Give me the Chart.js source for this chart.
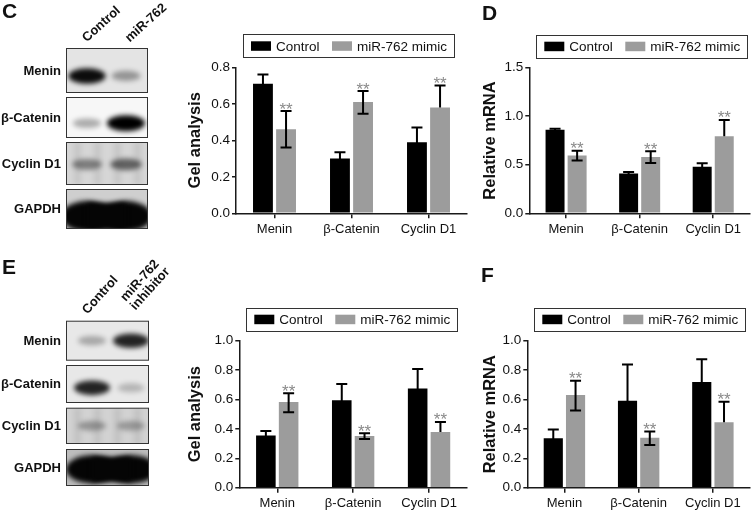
<!DOCTYPE html>
<html>
<head>
<meta charset="utf-8">
<script src="https://cdn.jsdelivr.net/npm/chart.js@4.4.1/dist/chart.umd.min.js"></script>
<style>
  body { margin: 0; background: #fff; }
  #page { position: relative; width: 752px; height: 511px; overflow: hidden; font-family: 'Liberation Sans', Arial, sans-serif; color: #111; }
  canvas { position: absolute; }
  .lbl { position: absolute; font-weight: bold; font-size: 13px; white-space: nowrap; }
  .rowlbl { left: 0; width: 61px; text-align: right; line-height: 14px; }
  .hdr { transform-origin: 0 100%; line-height: 13px; }
  .panel { font-size: 21px; line-height: 21px; }
</style>
</head>
<body>
<div id="page">
  <canvas id="blots" width="752" height="511" style="left:0;top:0"></canvas>
</div>
<script>
const FONT = "'Liberation Sans', Arial, sans-serif";
const BLACK = '#000000';
const GRAY = '#9c9c9c';
const AX = '#1a1a1a';

// datos comunes
const CATS = ['Menin', 'β-Catenin', 'Cyclin D1'];
const SERIES = ['Control', 'miR-762 mimic'];

// C: gel analysis (mimic)
const gelC_ctrl = [0.71, 0.30, 0.39];
const gelC_ctrlErr = [0.05, 0.035, 0.08];
const gelC_mimic = [0.46, 0.61, 0.58];
const gelC_mimicUp = [0.10, 0.06, 0.12];
const gelC_mimicDn = [0.10, 0.065, 0];

// D: relative mRNA (mimic)
const mrnaD_ctrl = [0.86, 0.41, 0.48];
const mrnaD_ctrlErr = [0.012, 0.015, 0.035];
const mrnaD_mimic = [0.595, 0.58, 0.795];
const mrnaD_mimicUp = [0.05, 0.058, 0.167];
const mrnaD_mimicDn = [0.05, 0.062, 0];

// E: gel analysis (inhibitor)
const gelE_ctrl = [0.355, 0.595, 0.675];
const gelE_ctrlErr = [0.03, 0.11, 0.132];
const gelE_mimic = [0.583, 0.351, 0.379];
const gelE_mimicUp = [0.06, 0.02, 0.068];
const gelE_mimicDn = [0.07, 0.02, 0];

// F: relative mRNA (inhibitor)
const mrnaF_ctrl = [0.336, 0.592, 0.719];
const mrnaF_ctrlErr = [0.06, 0.246, 0.155];
const mrnaF_mimic = [0.63, 0.34, 0.445];
const mrnaF_mimicUp = [0.098, 0.042, 0.14];
const mrnaF_mimicDn = [0.105, 0.05, 0];

// Western blots
const BLOT_ROWS = ['Menin', 'β-Catenin', 'Cyclin D1', 'GAPDH'];
const bandsC = [[0.95, 0.35], [0.3, 1.0], [0.42, 0.55], [1, 1]];
const bandsE = [[0.28, 0.85], [0.85, 0.22], [0.3, 0.28], [1, 1]];

const page = document.getElementById('page');

// Barras de error + asteriscos
Chart.register({
  id: 'errorBars',
  afterDatasetsDraw(chart) {
    const { ctx } = chart;
    const y = chart.scales.y;
    chart.data.datasets.forEach((ds, di) => {
      const meta = chart.getDatasetMeta(di);
      meta.data.forEach((bar, i) => {
        const v = ds.data[i];
        const top = y.getPixelForValue(v + ds._errUp[i]);
        const bot = y.getPixelForValue(v - ds._errDn[i]);
        ctx.save();
        ctx.strokeStyle = '#000';
        ctx.lineWidth = 2;
        ctx.beginPath();
        ctx.moveTo(bar.x, top); ctx.lineTo(bar.x, bot);
        ctx.moveTo(bar.x - 5.5, top); ctx.lineTo(bar.x + 5.5, top);
        if (ds._errDn[i] > 0) { ctx.moveTo(bar.x - 5.5, bot); ctx.lineTo(bar.x + 5.5, bot); }
        ctx.stroke();
        if (ds._stars) {
          ctx.fillStyle = '#8a8a8a';
          ctx.font = `17px ${FONT}`;
          ctx.textAlign = 'center';
          ctx.textBaseline = 'alphabetic';
          ctx.fillText('**', bar.x, top + 3.5);
        }
        ctx.restore();
      });
    });
  }
});

// Leyenda con recuadro
Chart.register({
  id: 'boxLegend',
  afterDraw(chart) {
    const { ctx, chartArea } = chart;
    const x = chartArea.left + 7, w = 211, h = 23;
    const yt = chartArea.top - 10 - h;
    const offs = [[8, 33], [89, 114]];
    ctx.save();
    ctx.strokeStyle = '#333';
    ctx.lineWidth = 1;
    ctx.strokeRect(Math.round(x) + 0.5, Math.round(yt) + 0.5, w, h);
    chart.data.datasets.forEach((ds, i) => {
      ctx.fillStyle = ds.backgroundColor;
      ctx.fillRect(x + offs[i][0], yt + 7, 20, 9.5);
      ctx.fillStyle = '#111';
      ctx.font = `13.5px ${FONT}`;
      ctx.textBaseline = 'middle';
      ctx.textAlign = 'left';
      ctx.fillText(ds.label, x + offs[i][1], yt + h / 2 + 1);
    });
    ctx.restore();
  }
});

const PANELS = [
  { box: { x: 180, y: 0, w: 290, h: 250 }, plot: { l: 236, t: 67.3, r: 467, b: 213.3 }, titleX: 195,
    title: 'Gel analysis', max: 0.8, step: 0.2,
    ctrl: gelC_ctrl, ctrlErr: gelC_ctrlErr, mimic: gelC_mimic, up: gelC_mimicUp, dn: gelC_mimicDn },
  { box: { x: 470, y: 0, w: 282, h: 250 }, plot: { l: 529.3, t: 67.7, r: 750, b: 213.3 }, titleX: 490,
    title: 'Relative mRNA', max: 1.5, step: 0.5,
    ctrl: mrnaD_ctrl, ctrlErr: mrnaD_ctrlErr, mimic: mrnaD_mimic, up: mrnaD_mimicUp, dn: mrnaD_mimicDn },
  { box: { x: 180, y: 250, w: 290, h: 261 }, plot: { l: 239.3, t: 340.7, r: 467, b: 487.7 }, titleX: 195,
    title: 'Gel analysis', max: 1.0, step: 0.2,
    ctrl: gelE_ctrl, ctrlErr: gelE_ctrlErr, mimic: gelE_mimic, up: gelE_mimicUp, dn: gelE_mimicDn },
  { box: { x: 470, y: 250, w: 282, h: 261 }, plot: { l: 527.3, t: 340.7, r: 750, b: 487.7 }, titleX: 490.7,
    title: 'Relative mRNA', max: 1.0, step: 0.2,
    ctrl: mrnaF_ctrl, ctrlErr: mrnaF_ctrlErr, mimic: mrnaF_mimic, up: mrnaF_mimicUp, dn: mrnaF_mimicDn },
];

function makePanel(p) {
  const cv = document.createElement('canvas');
  cv.width = p.box.w; cv.height = p.box.h;
  cv.style.left = p.box.x + 'px'; cv.style.top = p.box.y + 'px';
  page.appendChild(cv);
  const titleSize = 16.5, lh = titleSize * 1.2;
  const yw = p.plot.l - p.box.x;
  const xh = p.box.y + p.box.h - p.plot.b;
  new Chart(cv, {
    type: 'bar',
    data: {
      labels: CATS,
      datasets: [
        { label: SERIES[0], data: p.ctrl, backgroundColor: BLACK, _errUp: p.ctrlErr, _errDn: p.ctrlErr, _stars: false },
        { label: SERIES[1], data: p.mimic, backgroundColor: GRAY, _errUp: p.up, _errDn: p.dn, _stars: true }
      ]
    },
    options: {
      responsive: false,
      animation: false,
      events: [],
      categoryPercentage: 0.6,
      barPercentage: 0.86,
      layout: { padding: { left: 0, top: p.plot.t - p.box.y, right: p.box.x + p.box.w - p.plot.r, bottom: 0 } },
      plugins: { legend: { display: false }, tooltip: { enabled: false } },
      scales: {
        x: {
          grid: { display: true, drawOnChartArea: false, offset: false, tickLength: 5, color: AX, lineWidth: 1.5 },
          border: { display: true, color: AX, width: 1.5 },
          ticks: { font: { family: FONT, size: 13 }, color: '#111', padding: 3, autoSkip: false, maxRotation: 0 },
          afterFit: s => { s.height = xh; }
        },
        y: {
          min: 0, max: p.max,
          grid: { display: true, drawOnChartArea: false, tickLength: 4, color: AX, lineWidth: 1.5 },
          border: { display: true, color: AX, width: 1.5 },
          ticks: { stepSize: p.step, callback: v => v.toFixed(1), font: { family: FONT, size: 13.5 }, color: '#111', padding: 2 },
          title: { display: true, text: p.title, color: '#111', font: { family: FONT, size: titleSize, weight: 'bold' },
                   padding: { top: p.titleX - p.box.x - lh / 2, bottom: 0 } },
          afterFit: s => { s.width = yw; }
        }
      }
    }
  });
}
PANELS.forEach(makePanel);

// ---- Western blots ----
const BLOTS = [
  { x0: 66, x1: 148, rows: [[48, 93], [97, 138], [142, 185], [189, 229]], lanes: [87, 126],
    bg: ['#e4e4e4', '#f7f7f7', '#d6d6d6', '#cfcfcf'], yc: [0.62, 0.64, 0.52, 0.68], bands: bandsC },
  { x0: 66, x1: 149, rows: [[320.7, 360.7], [365, 403], [407.7, 444], [449, 486]], lanes: [92, 131],
    bg: ['#e8e8e8', '#e8e8e8', '#d2d2d2', '#bdbdbd'], yc: [0.5, 0.6, 0.5, 0.55], bands: bandsE },
];

function drawBlot(ctx, b) {
  b.rows.forEach(([y0, y1], r) => {
    const h = y1 - y0, w = b.x1 - b.x0;
    ctx.save();
    ctx.beginPath(); ctx.rect(b.x0, y0, w, h); ctx.clip();
    ctx.fillStyle = b.bg[r];
    ctx.fillRect(b.x0, y0, w, h);
    ctx.filter = 'blur(2.5px)';
    const cy = y0 + h * b.yc[r];
    if (BLOT_ROWS[r] === 'GAPDH') {
      ctx.fillStyle = '#050505';
      b.lanes.forEach(lx => {
        ctx.beginPath(); ctx.ellipse(lx, cy, 26, h * 0.38, 0, 0, Math.PI * 2); ctx.fill();
      });
      ctx.fillRect(b.lanes[0], cy - h * 0.33, b.lanes[1] - b.lanes[0], h * 0.66);
    } else {
      if (BLOT_ROWS[r] === 'Cyclin D1') {
        // fondo moteado
        ctx.fillStyle = 'rgba(0,0,0,0.07)';
        [0, 1, 2, 3].forEach(k => ctx.fillRect(b.x0 + 8 + k * 20, y0, 7, h));
      }
      b.bands[r].forEach((a, lane) => {
        ctx.fillStyle = `rgba(0,0,0,${a})`;
        ctx.beginPath();
        ctx.ellipse(b.lanes[lane], cy, 12 + 7 * a, 3.5 + 4.5 * a, 0, 0, Math.PI * 2);
        ctx.fill();
      });
    }
    ctx.restore();
    ctx.strokeStyle = '#333';
    ctx.lineWidth = 1;
    ctx.strokeRect(b.x0 + 0.5, y0 + 0.5, w - 1, h - 1);

    const lbl = document.createElement('div');
    lbl.className = 'lbl rowlbl';
    lbl.textContent = BLOT_ROWS[r];
    lbl.style.top = ((y0 + y1) / 2 - 7) + 'px';
    page.appendChild(lbl);
  });
}
const bctx = document.getElementById('blots').getContext('2d');
BLOTS.forEach(b => drawBlot(bctx, b));

// cabeceras rotadas y letras de panel
function addText(html, cls, x, y, rot) {
  const d = document.createElement('div');
  d.className = 'lbl ' + cls;
  d.innerHTML = html;
  d.style.left = x + 'px';
  d.style.top = y + 'px';
  if (rot) { d.style.transform = `rotate(${rot}deg)`; }
  page.appendChild(d);
  if (rot) d.style.top = (y - d.offsetHeight) + 'px';
}
addText('Control', 'hdr', 88, 44, -42);
addText('miR-762', 'hdr', 131, 44, -42);
addText('Control', 'hdr', 89, 316, -48);
addText('miR-762<br>inhibitor', 'hdr', 137, 312, -48);
addText('C', 'panel', 2, 0);
addText('D', 'panel', 482, 2);
addText('E', 'panel', 2, 256);
addText('F', 'panel', 481, 264);
</script>
</body>
</html>
